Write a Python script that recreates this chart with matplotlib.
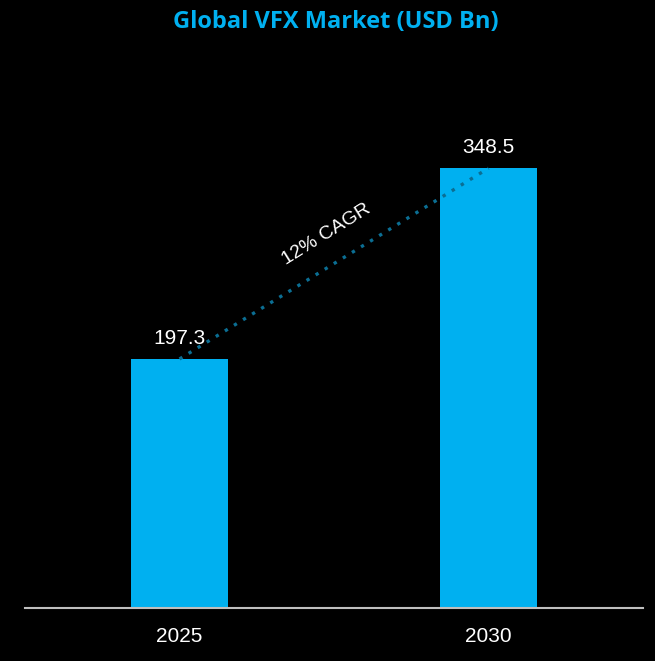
""" Global VFX market bar chart """

import matplotlib.pyplot as plt

years = ["2025", "2030"]
values = [197.3, 348.5]
cagr_label = "12% CAGR"

fig = plt.figure(figsize=(6.55, 6.61), dpi=100, facecolor="black")
ax = fig.add_axes([0.0382, 0.0802, 0.9435, 0.7637])
ax.set_facecolor("black")

x = range(len(years))
ax.bar(x, values, width=0.313, color="#00B0F0", zorder=2)

# value labels
for i, v in zip(x, values):
    ax.text(i, v + 9, f"{v}", ha="center", va="bottom", color="white",
            fontsize=15, family="Liberation Sans")

# cagr dotted line between bar tops
ax.plot(x, values, linestyle=(0, (1, 2.2)), color="#0B6E93", linewidth=2.4, zorder=3)
ax.text(0.475, 296, cagr_label, rotation=32, ha="center", va="center",
        color="white", fontsize=14, family="Liberation Sans")

ax.set_xlim(-0.5, 1.5)
ax.set_ylim(0, 400)
ax.set_xticks(list(x))
ax.set_xticklabels(years, color="white", fontsize=15, family="Liberation Sans")
ax.tick_params(axis="x", length=0, pad=14)
ax.set_yticks([])
for side in ["top", "right", "left"]:
    ax.spines[side].set_visible(False)
ax.spines["bottom"].set_color("#BFBFBF")
ax.spines["bottom"].set_linewidth(1.5)

fig.text(0.512, 0.966, "Global VFX Market (USD Bn)", ha="center", va="center",
         color="#00B0F0", fontsize=17, fontweight="bold", family="Open Sans")

fig.savefig("out.png", dpi=100, facecolor="black")
